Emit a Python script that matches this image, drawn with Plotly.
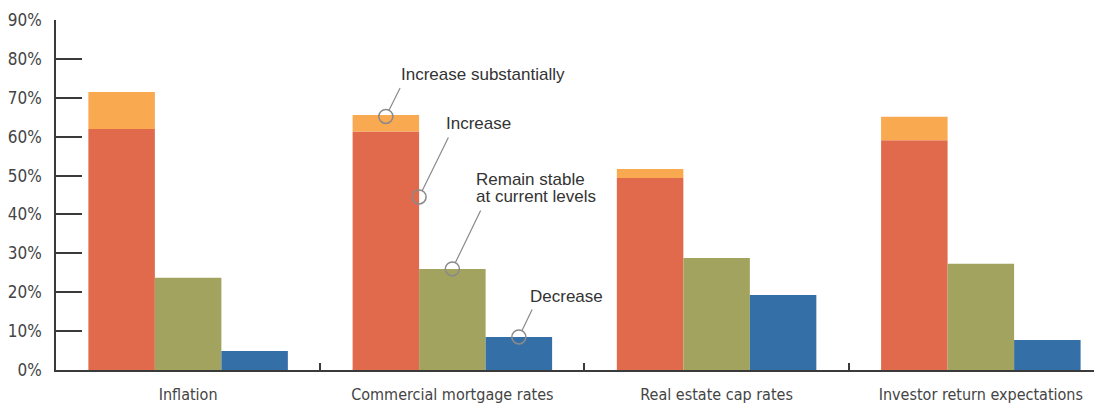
import plotly.graph_objects as go

categories = ["Inflation", "Commercial mortgage rates", "Real estate cap rates", "Investor return expectations"]
increase = [62.0, 61.3, 49.4, 59.1]
increase_substantially = [9.5, 4.3, 2.3, 6.0]   # stacked on top of "Increase"
remain_stable = [23.7, 26.0, 28.8, 27.3]
decrease = [4.9, 8.5, 19.3, 7.7]
y_ticks = [0, 10, 20, 30, 40, 50, 60, 70, 80, 90]
y_tick_labels = [f"{v}%" for v in y_ticks]

RED = "#E16A4C"
ORANGE = "#F9AA50"
GREEN = "#A2A35F"
BLUE = "#346FA7"
AXIS = "#3a3a3a"
TEXT = "#333333"
CALLOUT = "#8a8a8a"
NARROW = "DejaVu Sans Condensed, Liberation Sans Narrow, sans-serif"
SANS = "Liberation Sans, Arial, Helvetica, sans-serif"

fig = go.Figure()
fig.add_trace(go.Bar(x=categories, y=increase, name="Increase", marker_color=RED,
                     marker_line_width=0, offsetgroup="a"))
fig.add_trace(go.Bar(x=categories, y=increase_substantially, base=increase,
                     name="Increase substantially", marker_color=ORANGE,
                     marker_line_width=0, offsetgroup="a"))
fig.add_trace(go.Bar(x=categories, y=remain_stable, name="Remain stable at current levels",
                     marker_color=GREEN, marker_line_width=0, offsetgroup="b"))
fig.add_trace(go.Bar(x=categories, y=decrease, name="Decrease", marker_color=BLUE,
                     marker_line_width=0, offsetgroup="c"))

BARGAP = 0.245
bw = (1 - BARGAP) / 3  # bar width in category units
ci = 1  # callouts are on "Commercial mortgage rates"
circle_x = [ci - bw, ci - bw / 2, ci, ci + bw]
circle_y = [increase[ci] + increase_substantially[ci] - 0.4, 44.5, remain_stable[ci], decrease[ci]]

R = 7
for cx, cy in zip(circle_x, circle_y):
    fig.add_shape(type="circle", xref="x", yref="y", xsizemode="pixel", ysizemode="pixel",
                  xanchor=cx, yanchor=cy, x0=-R, x1=R, y0=-R, y1=R,
                  line=dict(color=CALLOUT, width=1.5), fillcolor="rgba(0,0,0,0)")

# leader lines (pixel offsets from circle centre) and labels
leaders = [(15, -30), (30, -61), (29, -60), (14, -29)]
for (cx, cy), (ax, ay) in zip(zip(circle_x, circle_y), leaders):
    fig.add_annotation(x=cx, y=cy, xref="x", yref="y", text="", showarrow=True,
                       arrowhead=0, arrowwidth=1.2, arrowcolor=CALLOUT,
                       ax=ax, ay=ay, standoff=R)

labels = [
    ("Increase substantially", 0, 13, 42),
    ("Increase", 1, 25, 73),
    ("Remain stable", 2, 22, 89),
    ("at current levels", 2, 22, 72),
    ("Decrease", 3, 9, 40),
]
for text, k, xs, ys in labels:
    fig.add_annotation(x=circle_x[k], y=circle_y[k], xref="x", yref="y", text=text,
                       showarrow=False, xanchor="left", yanchor="middle",
                       xshift=xs, yshift=ys, font=dict(family=SANS, size=17, color=TEXT))

# page body has an 8px margin: figure is sized/margined to compensate
fig.update_layout(
    width=1094, height=396,
    margin=dict(l=45, r=0, t=12, b=34),
    barmode="group", bargap=BARGAP, bargroupgap=0,
    plot_bgcolor="white", paper_bgcolor="white",
    showlegend=False,
    xaxis=dict(type="category", range=[-0.5, 3.4585], showline=True, linecolor=AXIS,
               linewidth=1.5, ticks="inside", tickson="boundaries", ticklen=7,
               tickcolor=AXIS, tickwidth=1.5, showgrid=False, zeroline=False,
               ticklabelstandoff=9,
               tickfont=dict(family=NARROW, size=16, color="#444444")),
    yaxis=dict(range=[0, 90], tickvals=y_ticks, ticktext=y_tick_labels, showline=True,
               linecolor=AXIS, linewidth=1.5, ticks="inside", ticklen=26, tickcolor=AXIS,
               tickwidth=1.5, showgrid=False, zeroline=False, ticklabelstandoff=9,
               tickfont=dict(family=NARROW, size=17, color="#444444")),
)

fig.write_html("out.html")
